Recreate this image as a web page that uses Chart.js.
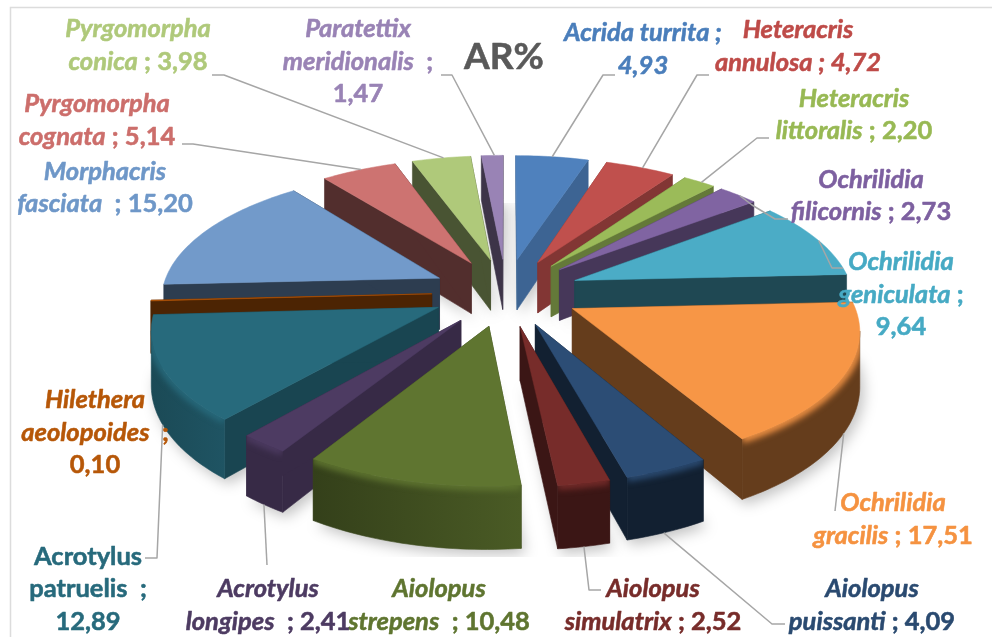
<!DOCTYPE html>
<html><head><meta charset="utf-8">
<style>html,body{margin:0;padding:0;background:#fff}canvas{display:block}</style>
<script src="https://cdn.jsdelivr.net/npm/chart.js@4"></script></head>
<body><canvas id="c" width="992" height="637"></canvas>
<script>
const categories=["Acrida turrita","Heteracris annulosa","Heteracris littoralis","Ochrilidia filicornis","Ochrilidia geniculata","Ochrilidia gracilis","Aiolopus puissanti","Aiolopus simulatrix","Aiolopus strepens","Acrotylus longipes","Acrotylus patruelis","Hilethera aeolopoides","Morphacris fasciata","Pyrgomorpha cognata","Pyrgomorpha conica","Paratettix meridionalis"];
const values=[4.93,4.72,2.20,2.73,9.64,17.51,4.09,2.52,10.48,2.41,12.89,0.10,15.20,5.14,3.98,1.47];
const colors=["#4F81BD","#C0504D","#9BBB59","#8064A2","#4BACC6","#F79646","#2C4D75","#772C2A","#5F7530","#4D3B62","#276A7C","#B65708","#729ACA","#CD7371","#AFC97A","#9983B5"];
const textColors=["#4A7EBB","#BE4B48","#98B954","#7D60A0","#46AAC4","#F59240","#2A4A70","#772C2A","#5F7530","#4D3B62","#276A7C","#B65708","#6E97C8","#CC6E6B","#AFC97A","#9983B5"];
const wallShades=[.78,.68,.65,.55,.42,.41,.42,.5,.62,.72,.66,.42,.4,.4,.42,.4];
const outerStart=[.7,.68,.65,.55,.42,.41,.42,.5,.78,.72,.8,.42,.4,.4,.42,.4];
const outerEnd=[.7,.68,.65,.55,.42,.41,.42,.5,.55,.72,.7,.42,.4,.4,.42,.4];
const labelLines=[["Acrida turrita ;","{v}"],["Heteracris","annulosa ; {v}"],["Heteracris","littoralis ; {v}"],["Ochrilidia","filicornis ; {v}"],["Ochrilidia","geniculata ;","{v}"],["Ochrilidia","gracilis ; {v}"],["Aiolopus","puissanti ; {v}"],["Aiolopus","simulatrix ; {v}"],["Aiolopus","strepens  ; {v}"],["Acrotylus","longipes  ; {v}"],["Acrotylus","patruelis  ;","{v}"],["Hilethera","aeolopoides  ;","{v}"],["Morphacris","fasciata  ; {v}"],["Pyrgomorpha","cognata ; {v}"],["Pyrgomorpha","conica ; {v}"],["Paratettix","meridionalis  ;","{v}"]];
const italicValue=[1,1,0,0,0,0,0,0,0,0,0,0,0,0,0,0];
const uprightName=[0,0,0,0,0,0,0,0,0,0,1,0,0,0,0,0];
const labelX=[643,798,854,871,901,893,872,653,439,268,88,95,105,97,138,358];
const labelY=[[41,74],[38,71],[107,139],[188,220],[270,303,335],[511,544],[597,630],[597,630],[597,630],[597,630],[565,597,630],[408,441,473],[180,212],[112,145],[37,70],[37,70,102]];
const leaderElbows=[[[615,75],[603,75]],[[709,75],[697,75]],[[769,138],[757,138]],[[788,219],[775,219],[752,205]],[[843,268],[832,268]],[[835,511]],[[785,624],[772,624]],[[601,590],[589,590]],null,[[267,565]],[[145,558],[157,558]],null,null,[[182,144],[193,144]],[[212,75],[224,75]],[[441,75],[452,75]]];
const leaderAnchor=[[.5,0],[.5,0],[.5,0],[.5,0],[.5,0],[.5,1],[.5,1],[.5,1],null,[.5,1],[.5,1],null,null,[.5,0],[.5,0],[.5,0]];

const view={cx:506,cy:292,sx:278,sy:127,p:.14,depth:52};
const explode=75;

function project(u,v,z){const w=1-view.p*v;return [view.cx+view.sx*u/w,view.cy+view.sy*v/w+(z?view.depth/w:0)];}
function shade(hex,f){const n=parseInt(hex.slice(1),16);return `rgb(${(n>>16)*f|0},${((n>>8)&255)*f|0},${(n&255)*f|0})`;}
function geom(arc){
  const p=arc.getProps(['x','y','startAngle','endAngle','outerRadius'],true);
  const R=p.outerRadius,e=explode/R,mid=(p.startAngle+p.endAngle)/2;
  const ox=e*Math.cos(mid),oy=e*Math.sin(mid),pts=[];
  const n=Math.max(2,Math.ceil((p.endAngle-p.startAngle)/.02));
  for(let i=0;i<=n;i++){const a=p.startAngle+(p.endAngle-p.startAngle)*i/n;pts.push([ox+Math.cos(a),oy+Math.sin(a)]);}
  return {apex:[ox,oy],rim:pts,mid};
}
function poly(ctx,list){ctx.beginPath();list.forEach((q,i)=>i?ctx.lineTo(q[0],q[1]):ctx.moveTo(q[0],q[1]));ctx.closePath();}
function drawSlice(ctx,g,i){
  const col=colors[i],A0=project(g.apex[0],g.apex[1],0),A1=project(g.apex[0],g.apex[1],1);
  const rim0=g.rim.map(q=>project(q[0],q[1],0)),rim1=g.rim.map(q=>project(q[0],q[1],1));
  const last=rim0.length-1;
  ctx.fillStyle=ctx.strokeStyle=shade(col,wallShades[i]);ctx.lineWidth=.6;
  [[A0,rim0[0],rim1[0],A1],[A0,rim0[last],rim1[last],A1]].forEach(q=>{poly(ctx,q);ctx.fill();ctx.stroke();});
  let run=[];for(let k=0;k<last;k++){if(rim0[k+1][0]<rim0[k][0]){if(!run.length)run.push(k);run.push(k+1);}}
  if(run.length>1){
    const top=run.map(k=>rim0[k]),bot=run.map(k=>rim1[k]).reverse();
    const gr=ctx.createLinearGradient(top[0][0],0,top[top.length-1][0],0);
    gr.addColorStop(0,shade(col,outerStart[i]));gr.addColorStop(1,shade(col,outerEnd[i]));
    ctx.fillStyle=gr;ctx.strokeStyle=gr;
    poly(ctx,top.concat(bot));ctx.fill();ctx.stroke();
    ctx.save();poly(ctx,top.concat(bot));ctx.clip();
    ctx.filter='blur(3px)';ctx.strokeStyle=col;ctx.lineWidth=8;ctx.beginPath();
    top.forEach((q,k)=>k?ctx.lineTo(q[0],q[1]):ctx.moveTo(q[0],q[1]));ctx.stroke();
    ctx.restore();
  }
  ctx.fillStyle=ctx.strokeStyle=col;ctx.lineWidth=.5;
  poly(ctx,[A0].concat(rim0));ctx.fill();ctx.stroke();
}
function heavyText(ctx,t,x,y,c){ctx.fillStyle=c;ctx.strokeStyle=c;ctx.lineWidth=.55;ctx.fillText(t,x,y);ctx.strokeText(t,x,y);}
function drawLabel(ctx,i){
  const val=values[i].toFixed(2).replace('.',',');
  ctx.textBaseline='alphabetic';ctx.textAlign='left';
  const fI='italic bold 25.5px Lato',fU='bold 25.5px Lato';
  labelLines[i].forEach((ln,j)=>{
    const m=ln.search(/( *;|\{v\})/);
    const nm=m<0?ln:ln.slice(0,m),rest=(m<0?'':ln.slice(m)).replace('{v}',val);
    const nf=uprightName[i]?fU:fI,rf=italicValue[i]?fI:fU;
    ctx.font=nf;const w1=ctx.measureText(nm).width;ctx.font=rf;const w2=ctx.measureText(rest).width;
    let x=labelX[i]-(w1+w2)/2;const y=labelY[i][j];
    ctx.font=nf;heavyText(ctx,nm,x,y,textColors[i]);ctx.font=rf;heavyText(ctx,rest,x+w1,y,textColors[i]);
  });
}
const pie3d={id:'pie3d',
  beforeDraw(chart){const c=chart.ctx;c.save();c.fillStyle='#fff';c.fillRect(0,0,992,637);
    c.strokeStyle='#DCDCDC';c.lineWidth=1.5;c.beginPath();c.moveTo(10.5,637);c.lineTo(10.5,7.5);c.lineTo(992,7.5);c.stroke();c.restore();},
  beforeDatasetDraw(){return false;},
  afterDatasetsDraw(chart){
    const ctx=chart.ctx,arcs=chart.getDatasetMeta(0).data,gs=arcs.map(geom);
    ctx.save();
    ctx.save();ctx.beginPath();ctx.rect(0,203,992,354);ctx.clip();
    ctx.filter='blur(7px)';ctx.fillStyle='rgba(0,0,0,.24)';
    gs.forEach(g=>{const q=[project(g.apex[0],g.apex[1],1)].concat(g.rim.map(r=>project(r[0],r[1],1))).map(a=>[a[0]+4,a[1]+5]);poly(ctx,q);ctx.fill();});
    ctx.restore();
    gs.map((g,i)=>i).sort((a,b)=>Math.sin(gs[a].mid)-Math.sin(gs[b].mid)).forEach(i=>drawSlice(ctx,gs[i],i));
    ctx.strokeStyle='#A6A6A6';ctx.lineWidth=1.5;ctx.lineJoin='round';
    gs.forEach((g,i)=>{if(!leaderElbows[i])return;
      const an=leaderAnchor[i],q=g.rim[Math.round(an[0]*(g.rim.length-1))],end=project(q[0],q[1],an[1]);
      ctx.beginPath();leaderElbows[i].forEach((p,k)=>k?ctx.lineTo(p[0],p[1]):ctx.moveTo(p[0],p[1]));ctx.lineTo(end[0],end[1]);ctx.stroke();});
    categories.forEach((_,i)=>drawLabel(ctx,i));
    ctx.font='bold 37px Lato';ctx.textAlign='left';heavyText(ctx,'AR%',464,69,'#595959');
    ctx.restore();
  }};
new Chart(document.getElementById('c'),{type:'pie',
  data:{labels:categories,datasets:[{label:'AR%',data:values,backgroundColor:colors,borderWidth:0,offset:explode}]},
  options:{responsive:false,animation:false,rotation:0,layout:{padding:0},plugins:{legend:{display:false},tooltip:{enabled:false},title:{display:false}}},
  plugins:[pie3d]});
</script></body></html>
